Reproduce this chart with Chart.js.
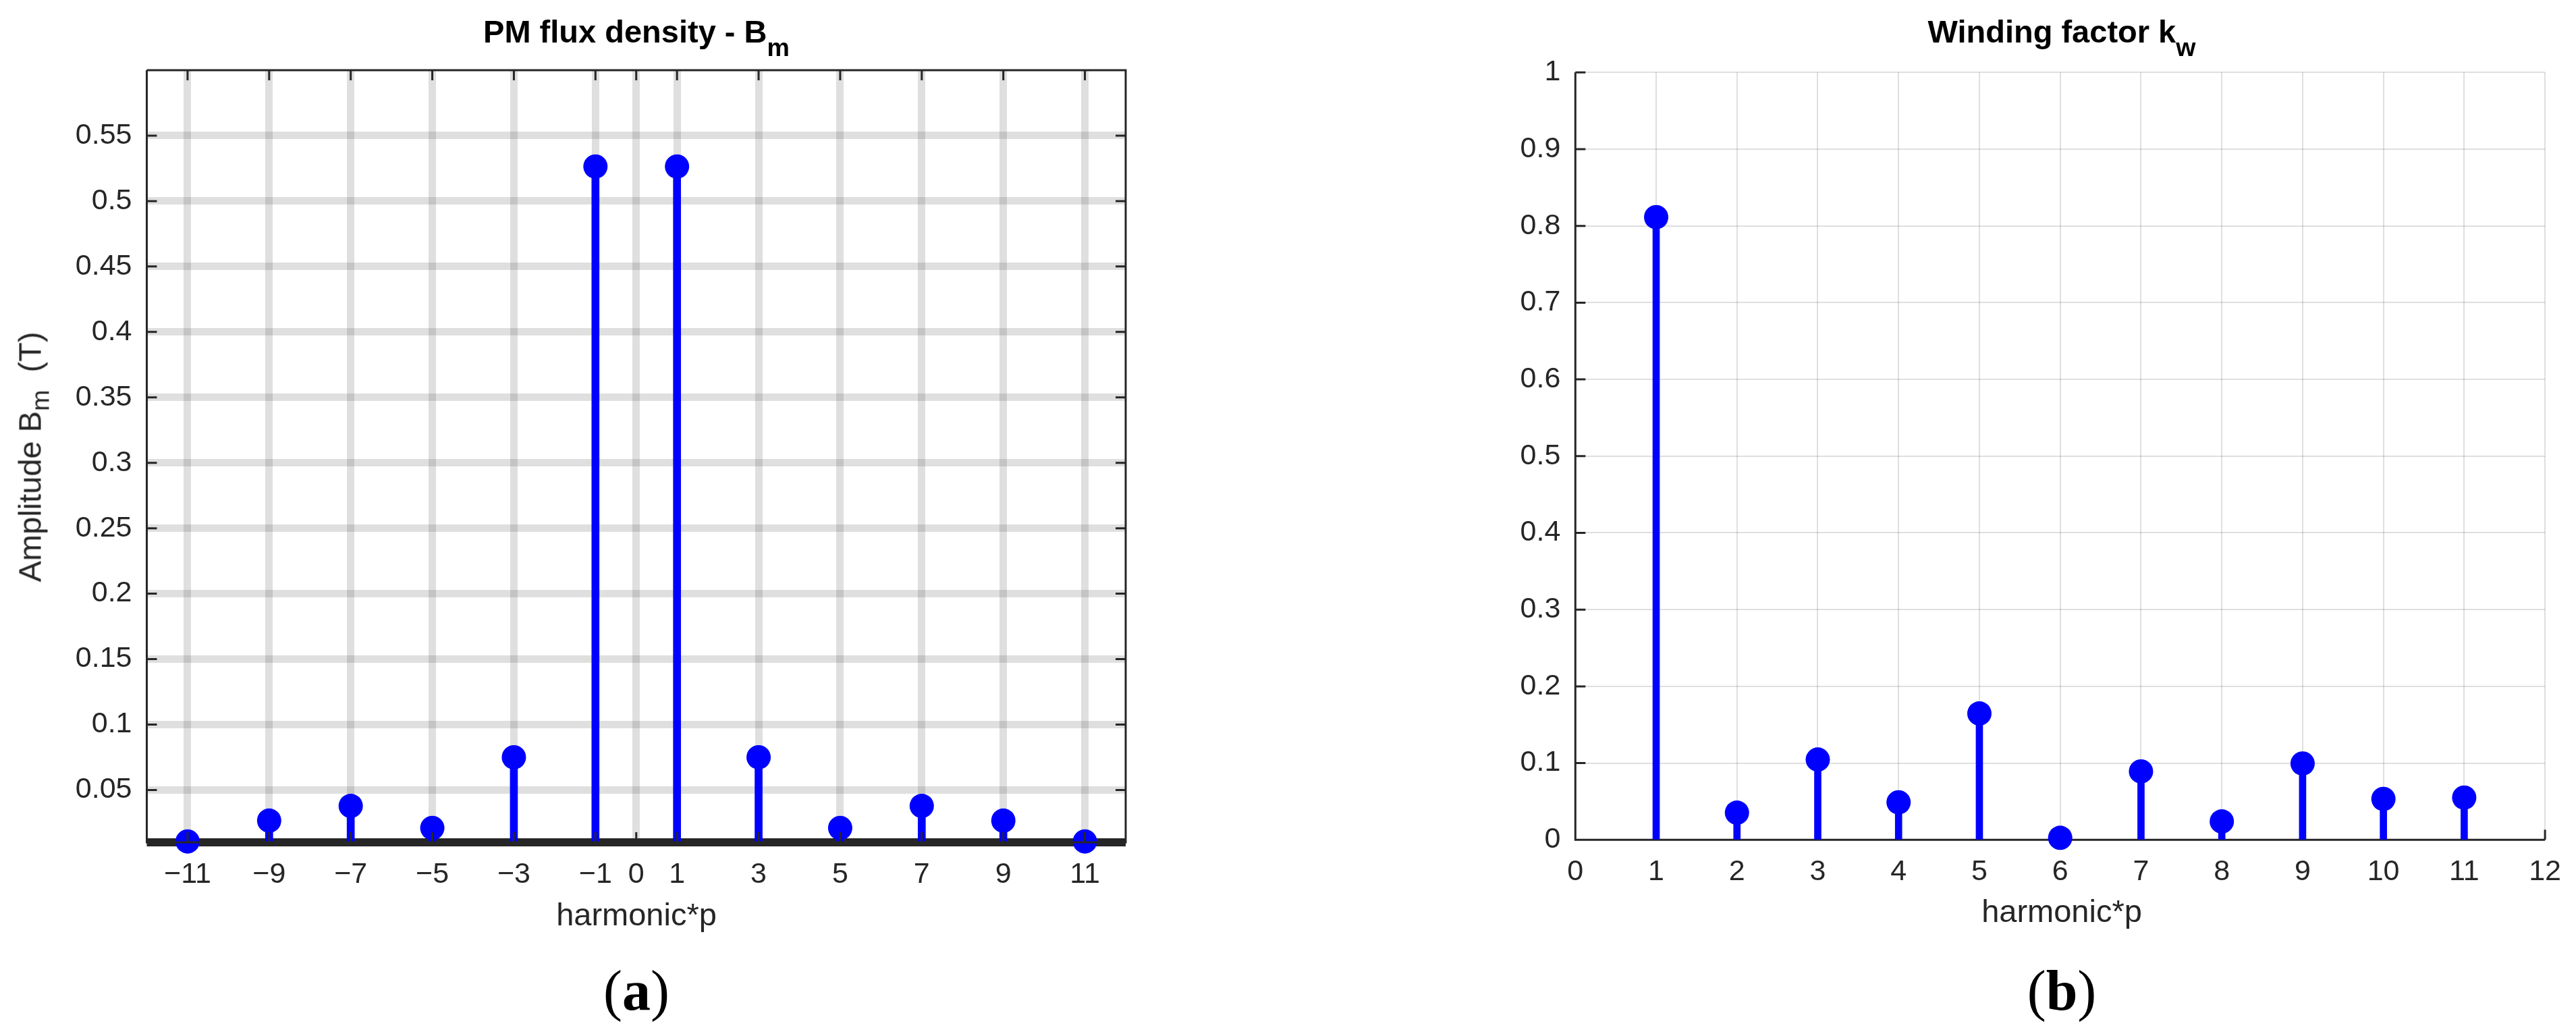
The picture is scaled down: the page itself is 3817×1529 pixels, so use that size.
<!DOCTYPE html>
<html>
<head>
<meta charset="utf-8">
<title>PM flux density and winding factor</title>
<script src="https://cdn.jsdelivr.net/npm/chart.js@4.4.1/dist/chart.umd.min.js"></script>
<style>
  html, body { margin: 0; padding: 0; background: #fff; }
  #page { position: relative; width: 3817px; height: 1529px; overflow: hidden;
          font-family: 'Liberation Sans', Arial, sans-serif; color: #262626; }
  canvas { position: absolute; top: 0; }
  .txt { position: absolute; white-space: nowrap; line-height: 1; text-align: center; width: 1000px; }
  .title { font-weight: bold; font-size: 47px; color: #000; }
  .label { font-size: 47px; }
  .sub { position: relative; top: 20px; font-size: 0.8em; }
  .caption { font-family: 'Liberation Serif', 'Times New Roman', serif; font-size: 84px; color: #000; }
  .caption b { font-weight: bold; }
  #ylabelA { position: absolute; left: 44px; top: 677px; white-space: nowrap; line-height: 1;
             font-size: 47px; transform: translate(-50%, -50%) rotate(-90deg); }
  #ylabelA .subm { position: relative; top: 12px; font-size: 0.8em; }
</style>
</head>
<body>
<div id="page">
  <canvas id="chartA" width="1720" height="1400" style="left:0px"></canvas>
  <canvas id="chartB" width="1717" height="1400" style="left:2100px"></canvas>

  <div class="txt title" style="left:443px; top:23px">PM flux density - B<span class="sub">m</span></div>
  <div class="txt title" style="left:2555px; top:23px">Winding factor k<span class="sub">w</span></div>

  <div class="txt label" style="left:443px; top:1331px">harmonic*p</div>
  <div class="txt label" style="left:2555px; top:1326px">harmonic*p</div>
  <div id="ylabelA">Amplitude B<span class="subm">m</span>&nbsp; (T)</div>

  <div class="txt caption" style="left:443px; top:1426px">(<b>a</b>)</div>
  <div class="txt caption" style="left:2555px; top:1426px">(<b>b</b>)</div>
</div>

<script>
// (a) PM flux density spectrum
const harmonicsA = [-11, -9, -7, -5, -3, -1, 1, 3, 5, 7, 9, 11];
const fluxDensity = [0.0107, 0.0266, 0.0378, 0.021, 0.075, 0.5264, 0.5264, 0.075, 0.021, 0.0378, 0.0266, 0.0107];
const xTicksA = [-11, -9, -7, -5, -3, -1, 0, 1, 3, 5, 7, 9, 11];
const xTickLabelsA = ['\u221211', '\u22129', '\u22127', '\u22125', '\u22123', '\u22121', '0', '1', '3', '5', '7', '9', '11'];
const yTicksA = [0.05, 0.1, 0.15, 0.2, 0.25, 0.3, 0.35, 0.4, 0.45, 0.5, 0.55];
const yTickLabelsA = ['0.05', '0.1', '0.15', '0.2', '0.25', '0.3', '0.35', '0.4', '0.45', '0.5', '0.55'];
const stemBaseA = 0.01;

// (b) winding factor per harmonic
const harmonicsB = [1, 2, 3, 4, 5, 6, 7, 8, 9, 10, 11];
const windingFactor = [0.8114, 0.0354, 0.1046, 0.0489, 0.1647, 0.0026, 0.0892, 0.024, 0.0995, 0.0533, 0.0551];
const xTicksB = [0, 1, 2, 3, 4, 5, 6, 7, 8, 9, 10, 11, 12];
const xTickLabelsB = ['0', '1', '2', '3', '4', '5', '6', '7', '8', '9', '10', '11', '12'];
const yTicksB = [0, 0.1, 0.2, 0.3, 0.4, 0.5, 0.6, 0.7, 0.8, 0.9, 1];
const yTickLabelsB = ['0', '0.1', '0.2', '0.3', '0.4', '0.5', '0.6', '0.7', '0.8', '0.9', '1'];

const AXIS_COLOR = '#262626';
const STEM_COLOR = '#0000ff';
const GRID_COLOR = 'rgba(38, 38, 38, 0.15)';

Chart.defaults.font.family = "'Liberation Sans', Arial, sans-serif";
Chart.defaults.color = AXIS_COLOR;

// matlab-like box: axis lines plus inward tick marks
function drawFrame(chart, opts) {
  const ctx = chart.ctx;
  const { left, right, top, bottom } = chart.chartArea;
  const xs = chart.scales.x, ys = chart.scales.y;
  const len = opts.tickLength;
  ctx.save();
  ctx.strokeStyle = AXIS_COLOR;
  ctx.lineWidth = opts.lineWidth;
  ctx.beginPath();
  ctx.moveTo(left, top); ctx.lineTo(left, bottom); ctx.lineTo(right, bottom);
  if (opts.box) { ctx.lineTo(right, top); ctx.lineTo(left, top); }
  xs.ticks.forEach(t => {
    const px = xs.getPixelForValue(t.value);
    ctx.moveTo(px, bottom); ctx.lineTo(px, bottom - len);
    if (opts.box) { ctx.moveTo(px, top); ctx.lineTo(px, top + len); }
  });
  ys.ticks.forEach(t => {
    const py = ys.getPixelForValue(t.value);
    ctx.moveTo(left, py); ctx.lineTo(left + len, py);
    if (opts.box) { ctx.moveTo(right, py); ctx.lineTo(right - len, py); }
  });
  ctx.stroke();
  ctx.restore();
}

const framePlugin = {
  id: 'frame',
  beforeDatasetsDraw(chart, args, opts) {
    if (opts.baseWidth) {
      const ctx = chart.ctx;
      const { left, right, bottom } = chart.chartArea;
      ctx.save();
      ctx.strokeStyle = AXIS_COLOR;
      ctx.lineWidth = opts.baseWidth;
      ctx.beginPath();
      ctx.moveTo(left, bottom); ctx.lineTo(right, bottom);
      ctx.stroke();
      ctx.restore();
    }
    if (!opts.onTop) drawFrame(chart, opts);
  },
  afterDatasetsDraw(chart, args, opts) {
    if (opts.onTop) drawFrame(chart, opts);
  }
};

function stemChart(canvasId, cfg) {
  const points = cfg.xs.map((x, i) => ({ x: x, y: cfg.ys[i] }));
  return new Chart(document.getElementById(canvasId), {
    type: 'bar',
    data: {
      datasets: [
        {
          type: 'scatter',
          data: points,
          pointRadius: cfg.markerRadius,
          pointHoverRadius: cfg.markerRadius,
          pointBackgroundColor: STEM_COLOR,
          pointBorderWidth: 0,
          showLine: false,
          clip: false,
          order: 0,
        },
        {
          type: 'bar',
          data: points,
          base: cfg.base,
          backgroundColor: STEM_COLOR,
          borderWidth: 0,
          barThickness: cfg.stemWidth,
          order: 1,
        },
      ],
    },
    options: {
      responsive: false,
      animation: false,
      events: [],
      layout: { padding: cfg.padding },
      plugins: {
        legend: { display: false },
        tooltip: { enabled: false },
        frame: cfg.frame,
      },
      scales: {
        x: {
          type: 'linear',
          min: cfg.xMin,
          max: cfg.xMax,
          offset: false,
          afterBuildTicks: (s) => { s.ticks = cfg.xTicks.map(v => ({ value: v })); },
          afterFit: (s) => { s.height = 100; },
          grid: { offset: false, color: GRID_COLOR, lineWidth: cfg.gridWidth, drawTicks: false },
          border: { display: false },
          ticks: {
            autoSkip: false,
            maxRotation: 0,
            padding: 22,
            font: { size: 43 },
            color: AXIS_COLOR,
            callback: (v, i) => cfg.xTickLabels[i],
          },
        },
        y: {
          type: 'linear',
          min: cfg.yMin,
          max: cfg.yMax,
          afterBuildTicks: (s) => { s.ticks = cfg.yTicks.map(v => ({ value: v })); },
          afterFit: (s) => { s.width = cfg.yAxisWidth; },
          grid: { color: GRID_COLOR, lineWidth: cfg.gridWidth, drawTicks: false },
          border: { display: false },
          ticks: {
            padding: 22,
            font: { size: 43 },
            color: AXIS_COLOR,
            callback: (v, i) => cfg.yTickLabels[i],
          },
        },
      },
    },
    plugins: [framePlugin],
  });
}

stemChart('chartA', {
  xs: harmonicsA, ys: fluxDensity,
  xMin: -12, xMax: 12, yMin: stemBaseA, yMax: 0.6,
  xTicks: xTicksA, xTickLabels: xTickLabelsA,
  yTicks: yTicksA, yTickLabels: yTickLabelsA,
  base: stemBaseA,
  markerRadius: 18, stemWidth: 11, gridWidth: 11,
  yAxisWidth: 217.5,
  padding: { left: 0, top: 104, right: 52, bottom: 52 },
  frame: { box: true, onTop: true, lineWidth: 3, tickLength: 15, baseWidth: 12 },
});

stemChart('chartB', {
  xs: harmonicsB, ys: windingFactor,
  xMin: 0, xMax: 12, yMin: 0, yMax: 1,
  xTicks: xTicksB, xTickLabels: xTickLabelsB,
  yTicks: yTicksB, yTickLabels: yTickLabelsB,
  base: 0,
  markerRadius: 18, stemWidth: 10, gridWidth: 2,
  yAxisWidth: 234.3,
  padding: { left: 0, top: 107.3, right: 42, bottom: 55.7 },
  frame: { box: false, onTop: false, lineWidth: 3, tickLength: 15, baseWidth: 0 },
});
</script>
</body>
</html>
